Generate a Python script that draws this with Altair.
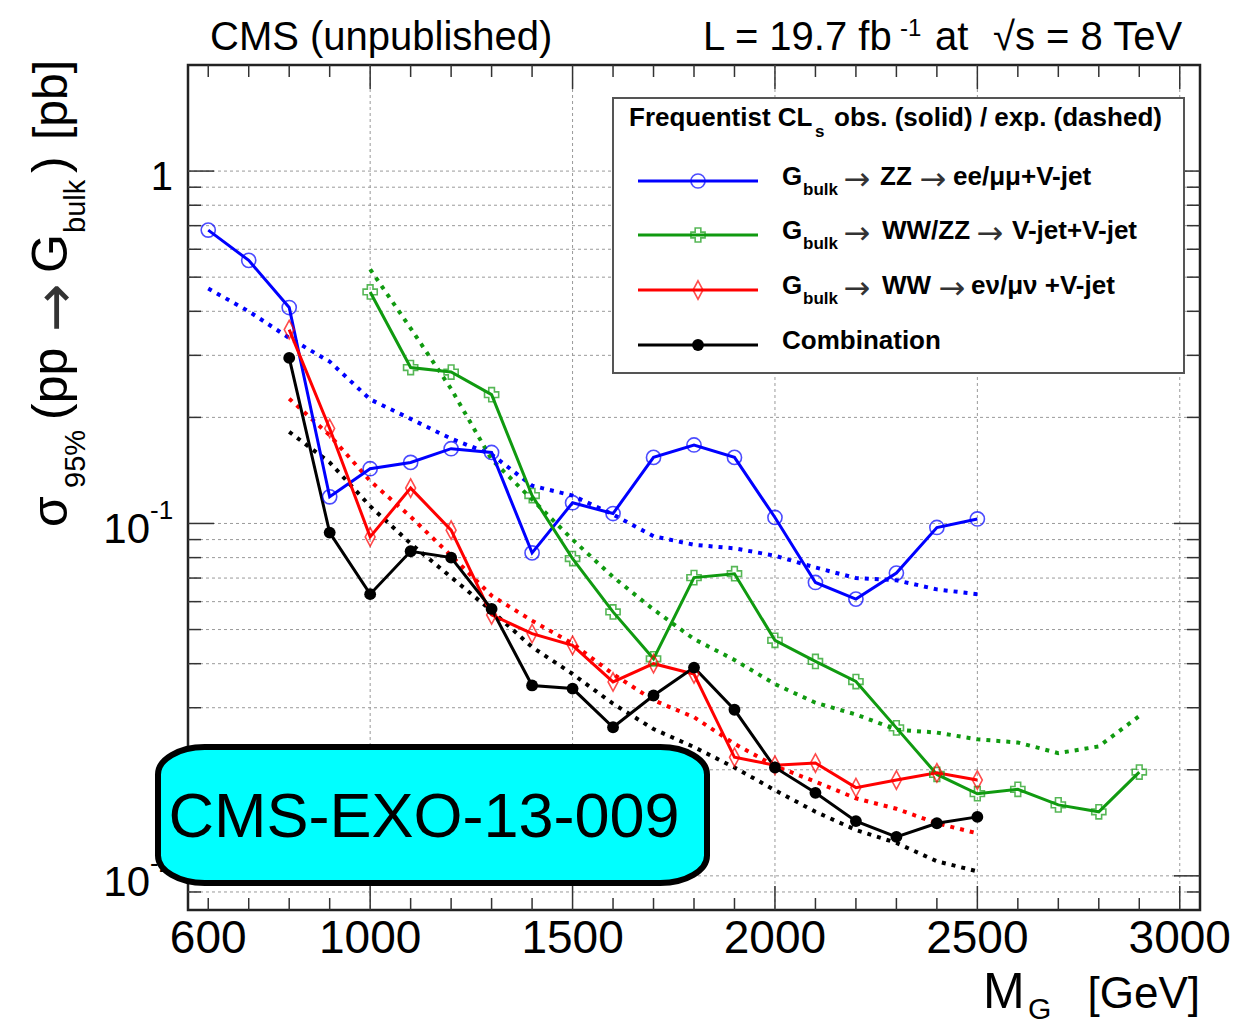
import altair as alt
import pandas as pd

# ---- 95% CL upper limits on sigma(pp -> G_bulk) [pb] vs resonance mass [GeV] ----
mass_zz = [600, 700, 800, 900, 1000, 1100, 1200, 1300, 1400, 1500,
           1600, 1700, 1800, 1900, 2000, 2100, 2200, 2300, 2400, 2500]
obs_zz = [0.68, 0.558, 0.41, 0.119, 0.143, 0.149, 0.163, 0.159, 0.0825, 0.1145,
          0.1067, 0.154, 0.167, 0.154, 0.104, 0.068, 0.061, 0.0723, 0.0974, 0.103]
exp_zz = [0.464, 0.40, 0.336, 0.288, 0.225, 0.198, 0.174, 0.157, 0.128, 0.12,
          0.106, 0.092, 0.087, 0.085, 0.081, 0.075, 0.070, 0.069, 0.065, 0.063]

mass_vv = [1000, 1100, 1200, 1300, 1400, 1500, 1600, 1700, 1800, 1900,
           2000, 2100, 2200, 2300, 2400, 2500, 2600, 2700, 2800, 2900]
obs_vv = [0.454, 0.277, 0.269, 0.232, 0.12, 0.0795, 0.0561, 0.0413, 0.0702, 0.072,
          0.0466, 0.0406, 0.0356, 0.0263, 0.0194, 0.0171, 0.0176, 0.0159, 0.0152, 0.0197]
exp_vv = [0.526, 0.358, 0.241, 0.152, 0.117, 0.09, 0.0705, 0.057, 0.047, 0.041,
          0.035, 0.031, 0.0287, 0.026, 0.0255, 0.0244, 0.0239, 0.0223, 0.0233, 0.0284]

mass_ww = [800, 900, 1000, 1100, 1200, 1300, 1400, 1500, 1600,
           1700, 1800, 1900, 2000, 2100, 2200, 2300, 2400, 2500]
obs_ww = [0.355, 0.186, 0.0916, 0.126, 0.0957, 0.055, 0.0487, 0.0451, 0.0355,
          0.040, 0.0374, 0.0217, 0.0206, 0.0209, 0.0178, 0.0187, 0.0196, 0.0187]
exp_ww = [0.226, 0.178, 0.132, 0.1045, 0.081, 0.0624, 0.053, 0.0456, 0.0374,
          0.0315, 0.0282, 0.0237, 0.0205, 0.0185, 0.0166, 0.0155, 0.0141, 0.0132]

mass_comb = [800, 900, 1000, 1100, 1200, 1300, 1400, 1500, 1600,
             1700, 1800, 1900, 2000, 2100, 2200, 2300, 2400, 2500]
obs_comb = [0.295, 0.0942, 0.063, 0.0834, 0.080, 0.0572, 0.0347, 0.034, 0.0264,
            0.0325, 0.039, 0.0296, 0.0203, 0.0172, 0.0143, 0.0129, 0.0141, 0.0147]
exp_comb = [0.182, 0.149, 0.112, 0.0877, 0.0704, 0.0565, 0.0446, 0.0374, 0.0308,
            0.0261, 0.0232, 0.0203, 0.0175, 0.0152, 0.0135, 0.0124, 0.011, 0.0103]

channels = ["zz_llj", "vv_jj", "ww_lvj", "comb"]
channel_colors = ["#0000ff", "#109a10", "#ff0000", "#000000"]

x_tick_labels = [600, 1000, 1500, 2000, 2500, 3000]
x_major = [1000, 1500, 2000, 2500, 3000]
x_minor = [600, 700, 800, 900, 1100, 1200, 1300, 1400, 1600, 1700, 1800, 1900,
           2100, 2200, 2300, 2400, 2600, 2700, 2800, 2900]
y_major = [0.01, 0.1, 1.0]
y_minor = [0.009, 0.02, 0.03, 0.04, 0.05, 0.06, 0.07, 0.08, 0.09,
           0.2, 0.3, 0.4, 0.5, 0.6, 0.7, 0.8, 0.9]
y_decades = [0.1, 0.01]
y_decade_exps = ["-1", "-2"]

# ---- long table ----
rows = []
for ch, ms, obs, exp in [("zz_llj", mass_zz, obs_zz, exp_zz),
                         ("vv_jj", mass_vv, obs_vv, exp_vv),
                         ("ww_lvj", mass_ww, obs_ww, exp_ww),
                         ("comb", mass_comb, obs_comb, exp_comb)]:
    for m, o, e in zip(ms, obs, exp):
        rows.append({"m": m, "sigma": o, "channel": ch, "kind": "obs"})
        rows.append({"m": m, "sigma": e, "channel": ch, "kind": "exp"})
df = pd.DataFrame(rows)

W, H = 1012, 845
FONT = "Liberation Sans"
ARROW_FONT = "DejaVu Sans"
xscale = alt.Scale(domain=[550, 3050], nice=False, zero=False)
yscale = alt.Scale(type="log", domain=[0.008, 2.0], nice=False)
cscale = alt.Scale(domain=channels, range=channel_colors)
one = pd.DataFrame({"k": [0]})

diamond = "M0 -1.3 L0.7 0 L0 1.3 L-0.7 0 Z"
shape_scale = alt.Scale(domain=["zz_llj", "vv_jj", "ww_lvj"],
                        range=["circle", "cross", diamond])

X = alt.X("m:Q", scale=xscale, axis=None)
Y = alt.Y("sigma:Q", scale=yscale, axis=None)


def text(t, x, y, size, bold=False, align="left", angle=0, color="black", font=FONT):
    kw = dict(text=t, fontSize=size, font=font, align=align,
              baseline="alphabetic", color=color,
              fontWeight="bold" if bold else "normal")
    if angle:
        kw["angle"] = angle
    return alt.Chart(one).mark_text(**kw).encode(x=alt.value(x), y=alt.value(y))


def arrow(x, y, size, angle=0):
    return text("→", x, y, size, align="center", angle=angle, font=ARROW_FONT, color="#333333")


GRID = dict(color="#9a9a9a", strokeWidth=1, strokeDash=[3, 3])
TICK = dict(color="#333333", strokeWidth=1.5)

layers = []

# grid
layers.append(alt.Chart(pd.DataFrame({"v": y_minor + y_major})).mark_rule(**GRID).encode(
    y=alt.Y("v:Q", scale=yscale, axis=None), x=alt.value(0), x2=alt.value(W)))
layers.append(alt.Chart(pd.DataFrame({"m": x_major})).mark_rule(**GRID).encode(
    x=alt.X("m:Q", scale=xscale, axis=None), y=alt.value(0), y2=alt.value(H)))

# inward frame ticks
for vals, ln in [(x_minor, 12), (x_major, 24)]:
    d = pd.DataFrame({"m": vals})
    xe = alt.X("m:Q", scale=xscale, axis=None)
    layers.append(alt.Chart(d).mark_rule(**TICK).encode(x=xe, y=alt.value(H), y2=alt.value(H - ln)))
    layers.append(alt.Chart(d).mark_rule(**TICK).encode(x=xe, y=alt.value(0), y2=alt.value(ln)))
for vals, ln in [(y_minor, 13), (y_major, 26)]:
    d = pd.DataFrame({"v": vals})
    ye = alt.Y("v:Q", scale=yscale, axis=None)
    layers.append(alt.Chart(d).mark_rule(**TICK).encode(y=ye, x=alt.value(0), x2=alt.value(ln)))
    layers.append(alt.Chart(d).mark_rule(**TICK).encode(y=ye, x=alt.value(W), x2=alt.value(W - ln)))

# expected (dotted) and observed (solid) limits
base = alt.Chart(df)
layers.append(base.transform_filter("datum.kind == 'exp'").mark_line(
    strokeWidth=4, strokeDash=[4, 6]).encode(
    x=X, y=Y, color=alt.Color("channel:N", scale=cscale, legend=None), order="m:Q"))
layers.append(base.transform_filter("datum.kind == 'obs'").mark_line(
    strokeWidth=3).encode(
    x=X, y=Y, color=alt.Color("channel:N", scale=cscale, legend=None), order="m:Q"))
layers.append(base.transform_filter("datum.kind == 'obs' && datum.channel != 'comb'").mark_point(
    filled=False, size=200, strokeWidth=1.6).encode(
    x=X, y=Y, color=alt.Color("channel:N", scale=cscale, legend=None),
    shape=alt.Shape("channel:N", scale=shape_scale, legend=None)))
layers.append(base.transform_filter("datum.kind == 'obs' && datum.channel == 'comb'").mark_point(
    filled=True, size=140, shape="circle", color="black", opacity=1).encode(x=X, y=Y))

# axis labels
layers.append(alt.Chart(pd.DataFrame({"m": x_tick_labels})).mark_text(
    fontSize=46, font=FONT, align="center", baseline="alphabetic").encode(
    x=alt.X("m:Q", scale=xscale, axis=None), y=alt.value(888), text="m:N"))
layers.append(alt.Chart(pd.DataFrame({"v": [1.0]})).mark_text(
    text="1", fontSize=40, font=FONT, align="right", baseline="alphabetic", dy=19).encode(
    y=alt.Y("v:Q", scale=yscale, axis=None), x=alt.value(-15)))
dec = pd.DataFrame({"v": y_decades, "e": y_decade_exps})
layers.append(alt.Chart(dec).mark_text(
    text="10", fontSize=42, font=FONT, align="right", baseline="alphabetic", dy=20).encode(
    y=alt.Y("v:Q", scale=yscale, axis=None), x=alt.value(-38)))
layers.append(alt.Chart(dec).mark_text(
    fontSize=26, font=FONT, align="left", baseline="alphabetic", dy=-4).encode(
    y=alt.Y("v:Q", scale=yscale, axis=None), x=alt.value(-38), text="e:N"))

# y title (rotated, with subscripts)
layers += [
    text("σ", -121, 462, 50, angle=270),
    text("95%", -103, 423, 29, angle=270),
    text("(pp", -121, 355, 50, angle=270),
    arrow(-113, 243, 58, angle=270),
    text("G", -121, 208, 50, angle=270),
    text("bulk", -103, 168, 29, angle=270),
    text(")", -121, 108, 50, angle=270),
    text("[pb]", -121, 75, 48, angle=270),
]

# x title
layers += [
    text("M", 795, 943, 50),
    text("G", 840, 954, 30),
    text("[GeV]", W, 943, 44, align="right"),
]

# header texts
layers += [
    text("CMS (unpublished)", 22, -15, 40),
    text("L = 19.7 fb", 515, -15, 40),
    text("-1", 712, -29, 24),
    text("at", 747, -15, 40),
    text("√s = 8 TeV", 805, -15, 40),
]

# legend
layers.append(alt.Chart(one).mark_rect(fill="white", stroke="#555555", strokeWidth=2).encode(
    x=alt.value(425), x2=alt.value(996), y=alt.value(33), y2=alt.value(308)))
layers += [
    text("Frequentist CL", 441, 61, 26, bold=True),
    text("s", 627, 72, 17, bold=True),
    text("obs. (solid) / exp. (dashed)", 646, 61, 26, bold=True),
]
# each row: y, colour, marker, label pieces as (x, text) with arrows in between
legend_rows = [
    (116, "#0000ff", "circle", [(692, "ZZ"), (765, "ee/μμ+V-jet")], [669, 745]),
    (170, "#109a10", "cross", [(694, "WW/ZZ"), (824, "V-jet+V-jet")], [669, 802]),
    (225, "#ff0000", diamond, [(694, "WW"), (783, "eν/μν +V-jet")], [669, 764]),
]
for ry, col, shp, pieces, arrows in legend_rows:
    layers.append(alt.Chart(one).mark_rule(color=col, strokeWidth=3).encode(
        x=alt.value(450), x2=alt.value(570), y=alt.value(ry)))
    layers.append(alt.Chart(one).mark_point(shape=shp, filled=False, size=200, strokeWidth=1.6,
                                            color=col).encode(x=alt.value(510), y=alt.value(ry)))
    layers += [
        text("G", 594, ry + 3.5, 26, bold=True),
        text("bulk", 615, ry + 13.5, 17, bold=True),
    ]
    for px, t in pieces:
        layers.append(text(t, px, ry + 3.5, 26, bold=True))
    for ax in arrows:
        layers.append(arrow(ax, ry + 8.5, 32))
layers.append(alt.Chart(one).mark_rule(color="black", strokeWidth=3).encode(
    x=alt.value(450), x2=alt.value(570), y=alt.value(280)))
layers.append(alt.Chart(one).mark_point(shape="circle", filled=True, size=140, color="black",
                                        opacity=1).encode(x=alt.value(510), y=alt.value(280)))
layers.append(text("Combination", 594, 283.5, 26, bold=True))

# analysis tag
bw, bh = 549.0, 136.0
hh = bh / bw
rx, ry_ = 0.17, 0.1
tag_path = (f"M{-1 + rx} {-hh} L{1 - rx} {-hh} A{rx} {ry_} 0 0 1 1 {-hh + ry_} "
            f"L1 {hh - ry_} A{rx} {ry_} 0 0 1 {1 - rx} {hh} L{-1 + rx} {hh} "
            f"A{rx} {ry_} 0 0 1 -1 {hh - ry_} L-1 {-hh + ry_} A{rx} {ry_} 0 0 1 {-1 + rx} {-hh} Z")
layers.append(alt.Chart(one).mark_point(
    shape=tag_path, size=bw * bw, filled=True, fill="#00ffff", stroke="black",
    strokeWidth=6, opacity=1, fillOpacity=1, strokeOpacity=1).encode(
    x=alt.value(244.5), y=alt.value(750)))
layers.append(text("CMS-EXO-13-009", 236, 772, 63, align="center"))

chart = alt.layer(*layers).properties(
    width=W, height=H,
    autosize=alt.AutoSizeParams(type="none"),
    padding={"left": 188, "top": 65, "right": 36, "bottom": 119},
).configure(background="white").configure_view(stroke="#222222", strokeWidth=2.5)

chart.save("out.html", embed_options={"renderer": "svg", "actions": False})
